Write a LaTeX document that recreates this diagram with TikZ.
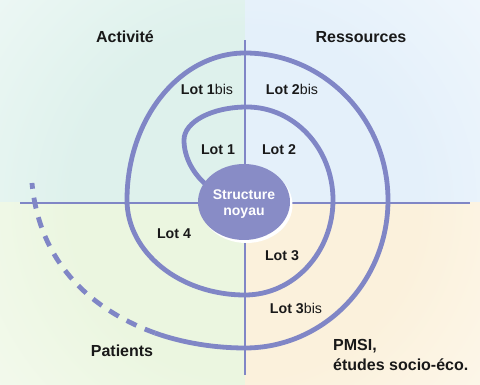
\documentclass[tikz,border=0pt]{standalone}
\usepackage{fontspec}
\setmainfont{Liberation Sans}
\usetikzlibrary{shapes.geometric}
\definecolor{tlc}{RGB}{222,241,236}
\definecolor{trc}{RGB}{228,240,250}
\definecolor{blc}{RGB}{235,246,224}
\definecolor{brc}{RGB}{251,241,220}
\definecolor{linec}{RGB}{128,134,198}
\definecolor{corec}{RGB}{136,140,198}
\pgfdeclareradialshading{tlfade}{\pgfpoint{0bp}{0bp}}{color(0bp)=(tlc); color(7bp)=(tlc); color(21bp)=(white); color(50bp)=(white)}
\pgfdeclareradialshading{trfade}{\pgfpoint{0bp}{0bp}}{color(0bp)=(trc); color(7bp)=(trc); color(21bp)=(white); color(50bp)=(white)}
\pgfdeclareradialshading{blfade}{\pgfpoint{0bp}{0bp}}{color(0bp)=(blc); color(7bp)=(blc); color(21bp)=(white); color(50bp)=(white)}
\pgfdeclareradialshading{brfade}{\pgfpoint{0bp}{0bp}}{color(0bp)=(brc); color(7bp)=(brc); color(21bp)=(white); color(50bp)=(white)}
\begin{document}
\begin{tikzpicture}[x=1pt,y=-1pt,line join=round,
  axisline/.style={draw=linec,line width=2.4pt},
  spiral/.style={draw=linec,line width=4.8pt},
  lbl/.style={font=\fontsize{14.2}{16}\selectfont\bfseries,text=black!90,inner sep=0pt},
  qlbl/.style={font=\fontsize{16}{20}\selectfont\bfseries,text=black!90,inner sep=0pt},
  corelbl/.style={font=\fontsize{14}{16.5}\selectfont\bfseries,text=white,align=center,inner sep=0pt}]
\useasboundingbox (0,0) rectangle (480,385);
\fill[white] (0,0) rectangle (480,385);
\coordinate (O) at (245,203);
\begin{scope}\clip (0,0) rectangle (O); \shade[shading=tlfade] (O) circle (620pt);\end{scope}
\begin{scope}\clip (480,0) rectangle (O); \shade[shading=trfade] (O) circle (620pt);\end{scope}
\begin{scope}\clip (0,385) rectangle (O); \shade[shading=blfade] (O) circle (620pt);\end{scope}
\begin{scope}\clip (480,385) rectangle (O); \shade[shading=brfade] (O) circle (620pt);\end{scope}
% axes
\coordinate (vt) at (245,40);
\coordinate (vb) at (245,375);
\coordinate (hl) at (20,203);
\coordinate (hr) at (470,203);
\draw[axisline] (vt) -- (vb);
\draw[axisline] (hl) -- (hr);
% spiral
\coordinate (s0) at (210,188);
\draw[spiral] (s0) .. controls (192,174) and (184,156) .. (184,140)
  .. controls (184,121.8) and (212,107) .. (247,107)
  .. controls (294.5,107) and (333,148.6) .. (333,200)
  .. controls (333,252.4) and (293.6,295) .. (245,295)
  .. controls (179.9,295) and (127,252.4) .. (127,200)
  .. controls (127,118.8) and (179.9,53) .. (245,53)
  .. controls (324,53) and (388,118.8) .. (388,200)
  .. controls (388,281.7) and (324,348) .. (245,348)
  .. controls (215,348) and (183,343) .. (155,333);
\coordinate (se) at (155,333);
\coordinate (sd) at (32,183);
\draw[draw=linec,line width=4.8pt,dash pattern=on 11pt off 9pt] (se) .. controls (100,313) and (40,270) .. (sd);
% core
\fill[white] (246.5,205) ellipse [x radius=46pt, y radius=38pt];
\node[ellipse,fill=corec,minimum width=92pt,minimum height=76pt,inner sep=0pt] (core) at (244,202) {};
\node[corelbl] (coretxt) at (244,204) {Structure\\noyau};
% labels
\node[qlbl] (act) at (125,37) {Activité};
\node[qlbl] (res) at (361,37) {Ressources};
\node[lbl] (l1b) at (207,89) {Lot 1\mdseries bis};
\node[lbl] (l2b) at (292,89) {Lot 2\mdseries bis};
\node[lbl] (l1) at (218,150) {Lot 1};
\node[lbl] (l2) at (279,150) {Lot 2};
\node[lbl] (l4) at (174,234) {Lot 4};
\node[lbl] (l3) at (282,256) {Lot 3};
\node[lbl] (l3b) at (296,308) {Lot 3\mdseries bis};
\node[qlbl] (pat) at (122,351) {Patients};
\node[qlbl,anchor=west,align=left] (pmsi) at (333,355) {PMSI,\\études socio-éco.};
\end{tikzpicture}
\end{document}
